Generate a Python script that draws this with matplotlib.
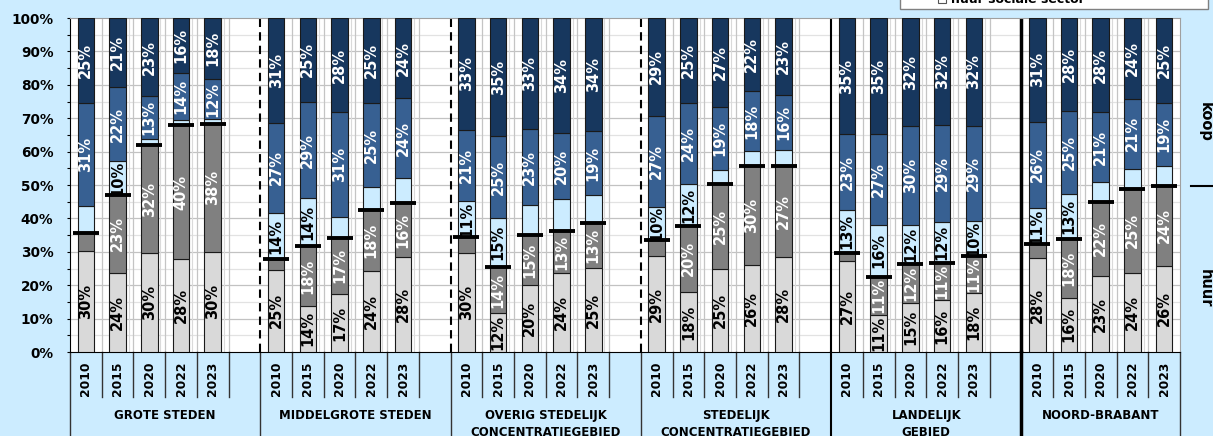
import matplotlib
matplotlib.use('Agg')
import matplotlib.pyplot as plt
import matplotlib.patches as mpatches
import matplotlib.transforms as mtransforms
import numpy as np

# data: per group, years 2010, 2015, 2020, 2022, 2023 (percent)
groups = ['GROTE STEDEN', 'MIDDELGROTE STEDEN', 'OVERIG STEDELIJK\nCONCENTRATIEGEBIED',
          'STEDELIJK\nCONCENTRATIEGEBIED', 'LANDELIJK\nGEBIED', 'NOORD-BRABANT']
years = ['2010', '2015', '2020', '2022', '2023']

huur_sociaal = [30.1, 23.7, 29.7, 27.8, 30.0,
                24.6, 13.9, 17.4, 24.3, 28.3,
                29.7, 11.6, 20.0, 23.6, 25.1,
                28.6, 18.0, 24.9, 26.1, 28.4,
                27.1, 11.2, 14.6, 15.6, 17.6,
                28.1, 16.3, 22.7, 23.6, 25.8]
huur_particulier = [5.6, 23.3, 32.2, 40.2, 38.4,
                    3.3, 17.7, 16.8, 18.3, 16.4,
                    4.8, 13.7, 15.0, 12.7, 13.4,
                    4.8, 19.8, 25.4, 29.6, 27.2,
                    2.5, 11.3, 11.7, 11.0, 11.1,
                    4.3, 17.5, 22.3, 25.3, 24.0]
koop_laag = [7.9, 10.1, 1.8, 1.6, 1.3,
             13.6, 14.4, 6.2, 6.7, 7.3,
             10.7, 14.8, 9.0, 9.4, 8.6,
             10.0, 12.4, 4.3, 4.4, 4.8,
             12.8, 15.6, 11.6, 12.2, 10.4,
             10.7, 13.4, 5.9, 6.0, 5.8]
koop_midden = [31.0, 22.2, 12.9, 14.0, 12.0,
               27.2, 28.9, 31.4, 25.3, 24.0,
               21.4, 24.6, 22.7, 19.9, 19.0,
               27.3, 24.4, 18.7, 17.9, 16.4,
               22.9, 27.2, 29.7, 29.3, 28.7,
               25.9, 25.1, 20.9, 20.8, 19.0]
koop_hoog = [25.4, 20.7, 23.4, 16.4, 18.3,
             31.3, 25.1, 28.2, 25.4, 24.0,
             33.4, 35.3, 33.3, 34.4, 33.9,
             29.3, 25.4, 26.7, 22.0, 23.2,
             34.7, 34.7, 32.4, 31.9, 32.2,
             31.0, 27.7, 28.2, 24.3, 25.4]

bg = '#CCECFF'
series = [huur_sociaal, huur_particulier, koop_laag, koop_midden, koop_hoog]
colors = ['#D9D9D9', '#808080', '#CCECFF', '#376092', '#17375E']
txt_colors = ['black', 'white', 'black', 'white', 'white']

W, H = 1213, 436
fig = plt.figure(figsize=(W / 100, H / 100), dpi=100, facecolor=bg)
ax = fig.add_axes([70 / W, 84 / H, 1110 / W, 334 / H])
ax.set_facecolor('white')
ax.set_xlim(0, 35)
ax.set_ylim(0, 100)

# slot positions: 6 slots per group (last one empty), last group 5 slots
xpos = np.array([g * 6 + i + 0.5 for g in range(len(groups)) for i in range(len(years))])

# grid
for y in range(5, 100, 5):
    ax.axhline(y, color='#C2C2C2' if y % 10 == 0 else '#E2E2E2', lw=0.9, zorder=1)
for k in range(1, 35):
    if k % 6 == 0:
        continue
    ax.axvline(k, color='#C4C4C4', lw=0.9, zorder=1)
    if k % 6 != 1:
        ax.axvline(k - 0.15, color='#DADADA', lw=0.8, zorder=1)

# group separators inside plot
for k in [6, 12, 18]:
    ax.axvline(k, color='black', lw=1.5, linestyle=(0, (4, 2.5)), zorder=2)
ax.axvline(24, color='black', lw=1.5, zorder=2)
ax.axvline(30, color='black', lw=2.5, zorder=2)

# stacked bars
bottom = np.zeros(len(xpos))
for vals, col, tcol in zip(series, colors, txt_colors):
    vals = np.array(vals)
    ax.bar(xpos, vals, bottom=bottom, width=0.52, color=col,
           edgecolor='#1A1A1A', linewidth=0.8, zorder=3)
    for x, v, b in zip(xpos, vals, bottom):
        if round(v) >= 10:
            ax.text(x, b + v / 2, '%d%%' % round(v), rotation=90, ha='center', va='center',
                    fontsize=10.5, fontweight='bold', color=tcol, zorder=5)
    bottom = bottom + vals

# huur/koop markers
huur_tot = np.array(huur_sociaal) + np.array(huur_particulier)
ax.hlines(huur_tot, xpos - 0.41, xpos + 0.41, color='black', lw=2.8, zorder=6)

# axes styling
for s in ['top', 'right']:
    ax.spines[s].set_color('#A0A0A0')
    ax.spines[s].set_linewidth(0.8)
ax.spines['left'].set_color('black')
ax.spines['bottom'].set_color('black')
ax.set_yticks(range(0, 101, 10))
ax.set_yticks(range(5, 100, 10), minor=True)
ax.set_yticklabels(['%d%%' % v for v in range(0, 101, 10)], fontsize=9.8, fontweight='bold')
ax.tick_params(axis='y', which='both', direction='out', length=2.4, width=0.8, pad=9.6)
ax.set_xticks([])

# category axis below
trans = mtransforms.blended_transform_factory(ax.transData, ax.transAxes)
for k in range(36):
    if k in (0, 6, 12, 18, 35):
        ax.plot([k, k], [0, -0.26], transform=trans, color='#333333', lw=1, clip_on=False)
    elif k == 24:
        ax.plot([k, k], [0, -0.26], transform=trans, color='black', lw=1.5, clip_on=False)
    elif k == 30:
        ax.plot([k, k], [0, -0.26], transform=trans, color='black', lw=2.5, clip_on=False)
    else:
        ax.plot([k, k], [0, -0.135], transform=trans, color='#333333', lw=1, clip_on=False)

for i, x in enumerate(xpos):
    ax.text(x, -0.081, years[i % len(years)], transform=trans, rotation=90,
            ha='center', va='center', fontsize=8.8, fontweight='bold')

for g, name in enumerate(groups):
    span = 5 if g == len(groups) - 1 else 6
    cx = g * 6 + span / 2
    for j, line in enumerate(name.split('\n')):
        ax.text(cx, -0.189 - j * 0.052, line, transform=trans, ha='center', va='center',
                fontsize=8.5, fontweight='bold')

# right side labels
rtrans = mtransforms.blended_transform_factory(ax.transAxes, ax.transData)
ax.text(1.0225, 69, 'koop', transform=rtrans, rotation=-90, ha='center', va='center',
        fontsize=10.5, fontweight='bold')
ax.text(1.0225, 19, 'huur', transform=rtrans, rotation=-90, ha='center', va='center',
        fontsize=10.5, fontweight='bold')
ax.plot([1.0099, 1.03], [huur_tot[-1], huur_tot[-1]], transform=rtrans, color='black',
        lw=1.5, clip_on=False)

# legend box (cut off at the top)
fig.patches.append(mpatches.Rectangle((900 / W, 1 - 9.3 / H), 308 / W, 30 / H,
                                      transform=fig.transFigure, facecolor='white',
                                      edgecolor='#808080', lw=1))
fig.patches.append(mpatches.Rectangle((938 / W, 1 - 3.5 / H), 8 / W, 8 / H,
                                      transform=fig.transFigure, facecolor='white',
                                      edgecolor='#555555', lw=0.8))
fig.text(951 / W, 1 - 3.3 / H, 'huur sociale sector', ha='left', va='baseline',
         fontsize=9, fontweight='bold')

plt.savefig('out.png', dpi=100, facecolor=bg)
